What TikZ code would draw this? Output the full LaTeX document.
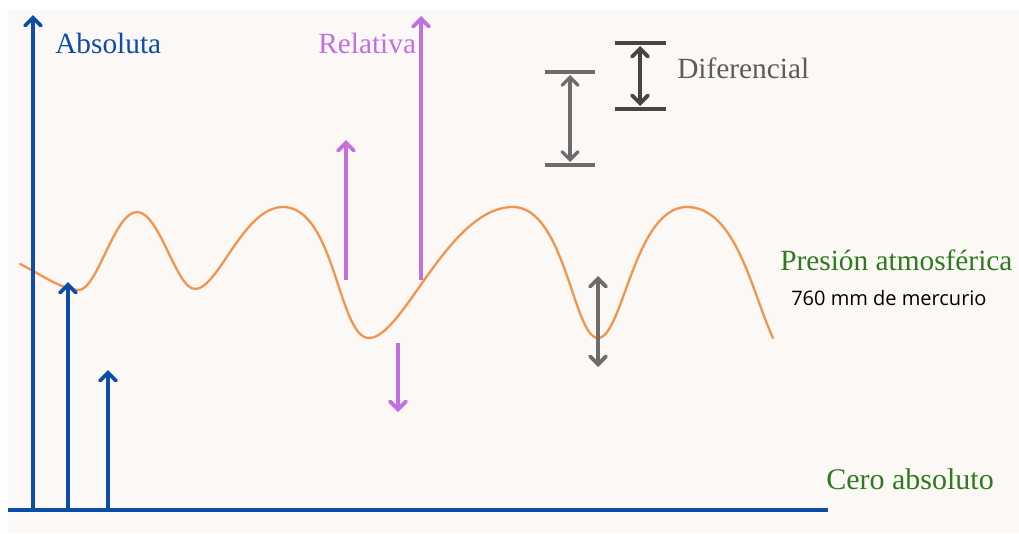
\documentclass[tikz,border=0pt]{standalone}
\usepackage{fontspec}
\setmainfont{Liberation Serif}
\newfontfamily\labelsans{Open Sans}
\usetikzlibrary{arrows.meta}
\definecolor{bgcol}{HTML}{FBF8F5}
\definecolor{absblue}{HTML}{0B4DA8}
\definecolor{relpurple}{HTML}{C46EE0}
\definecolor{difgray}{HTML}{6C6C6C}
\definecolor{difdark}{HTML}{454545}
\definecolor{atmgreen}{HTML}{2F7A1F}
\definecolor{curveorange}{HTML}{F3934C}
\tikzset{
  tip/.style={-{Straight Barb[length=6pt,width=12pt,line cap=round]}},
  dtip/.style={{Straight Barb[length=6pt,width=12pt,line cap=round]}-{Straight Barb[length=6pt,width=12pt,line cap=round]}},
  absarrow/.style={tip, draw=absblue, line width=2.8pt},
  relarrow/.style={tip, draw=relpurple, line width=2.8pt},
  difarrow/.style={dtip, draw=difgray, line width=2.8pt},
  difbar/.style={draw=difgray, line width=3pt},
  lbl/.style={inner sep=0pt, anchor=west, font=\fontsize{22}{26}\selectfont},
  up/.style={out=0,in=180,out looseness=#1,in looseness=0.85},
  down/.style={out=0,in=180,out looseness=0.85,in looseness=#1}
}
\begin{document}
\begin{tikzpicture}[x=0.75pt,y=-0.75pt]
\useasboundingbox (0,0) rectangle (1019,533);
\fill[bgcol] (8,10) rectangle (1019,533);

% orange curve
\draw[curveorange, line width=1.7pt, line cap=round, line join=round]
  (20,264) to[out=-25,in=175,looseness=0.8] (78,290)
  to[out=-5,in=180,out looseness=0.5,in looseness=0.6] (137,212)
  to[out=0,in=180,out looseness=0.6,in looseness=0.5] (195,289)
  to[up=0.5] (283,207)
  to[down=0.5] (369,338)
  to[out=0,in=180,out looseness=0.45,in looseness=0.85] (513,207)
  to[down=0.4] (598,338)
  to[up=0.4] (687,207)
  to[out=0,in=115,looseness=0.8] (773,338);

% baseline and absolute arrows
\coordinate (b0) at (8,510);
\coordinate (b1) at (828,510);
\draw[absblue, line width=3pt] (b0) -- (b1);
\coordinate (a1s) at (33,510); \coordinate (a1e) at (33,15);
\coordinate (a2s) at (68,510); \coordinate (a2e) at (68,282);
\coordinate (a3s) at (108,510); \coordinate (a3e) at (108,370);
\draw[absarrow] (a1s) -- (a1e);
\draw[absarrow] (a2s) -- (a2e);
\draw[absarrow] (a3s) -- (a3e);

% relative arrows
\coordinate (r1s) at (346,280); \coordinate (r1e) at (346,140);
\coordinate (r2s) at (421,280); \coordinate (r2e) at (421,16);
\coordinate (r3s) at (398,343); \coordinate (r3e) at (398,412);
\draw[relarrow] (r1s) -- (r1e);
\draw[relarrow] (r2s) -- (r2e);
\draw[relarrow] (r3s) -- (r3e);

% differential
\coordinate (d1l) at (545,72); \coordinate (d1r) at (595,72);
\coordinate (d2l) at (545,165); \coordinate (d2r) at (595,165);
\draw[difbar] (d1l) -- (d1r);
\draw[difbar] (d2l) -- (d2r);
\coordinate (d1a) at (570,75); \coordinate (d1b) at (570,162);
\draw[difarrow, line width=2.4pt] (d1a) -- (d1b);
\coordinate (e1l) at (615,43); \coordinate (e1r) at (666,43);
\coordinate (e2l) at (615,109); \coordinate (e2r) at (666,109);
\draw[difbar, draw=difdark] (e1l) -- (e1r);
\draw[difbar, draw=difdark] (e2l) -- (e2r);
\coordinate (e1a) at (640,46); \coordinate (e1b) at (640,106);
\draw[difarrow, draw=difdark] (e1a) -- (e1b);
\coordinate (g1a) at (598,276); \coordinate (g1b) at (598,367);
\draw[difarrow] (g1a) -- (g1b);

% labels
\node[lbl, text=absblue] (absl) at (55,43) {Absoluta};
\node[lbl, text=relpurple] (rell) at (318,43) {Relativa};
\node[lbl, text=difgray!85!black] (difl) at (677,68) {Diferencial};
\node[lbl, text=atmgreen] (atml) at (780,260) {Presión atmosférica};
\node[inner sep=0pt, anchor=west, font=\labelsans\fontsize{15}{18}\selectfont] (mmhg) at (791,298) {760 mm de mercurio};
\node[lbl, text=atmgreen, font=\fontsize{22.5}{26}\selectfont] (cero) at (826,479) {Cero absoluto};
\end{tikzpicture}
\end{document}
